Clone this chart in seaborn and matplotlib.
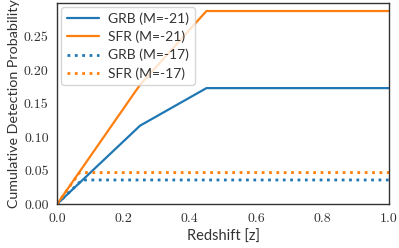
import matplotlib
matplotlib.use("Agg")
import matplotlib.pyplot as plt
import seaborn as sns
import pandas as pd

z_grb21 = [0.0, 0.25, 0.45, 1.0]
p_grb21 = [0.0, 0.117, 0.173, 0.173]
z_sfr21 = [0.0, 0.25, 0.45, 1.0]
p_sfr21 = [0.0, 0.178, 0.288, 0.288]
z_grb17 = [0.0, 0.075, 1.0]
p_grb17 = [0.0, 0.036, 0.036]
z_sfr17 = [0.0, 0.068, 1.0]
p_sfr17 = [0.0, 0.047, 0.047]

sns.set_style("white")
plt.rcParams['font.family'] = ['Lato', 'DejaVu Sans']

fig, ax = plt.subplots(figsize=(3.99, 2.48), dpi=100)
fig.subplots_adjust(left=0.143, right=0.975, top=0.988, bottom=0.177)

blue = "#1f77b4"
orange = "#ff7f0e"
sns.lineplot(x=z_grb21, y=p_grb21, ax=ax, color=blue, lw=1.6, label="GRB (M=-21)")
sns.lineplot(x=z_sfr21, y=p_sfr21, ax=ax, color=orange, lw=1.6, label="SFR (M=-21)")
sns.lineplot(x=z_grb17, y=p_grb17, ax=ax, color=blue, lw=2.0, ls=":", label="GRB (M=-17)")
sns.lineplot(x=z_sfr17, y=p_sfr17, ax=ax, color=orange, lw=2.0, ls=":", label="SFR (M=-17)")

ax.set_xlim(0, 1.0)
ax.set_ylim(0, 0.30)
ax.set_yticks([0.0, 0.05, 0.10, 0.15, 0.20, 0.25])
ax.set_yticklabels(["0.00", "0.05", "0.10", "0.15", "0.20", "0.25"])
ax.set_xticks([0.0, 0.2, 0.4, 0.6, 0.8, 1.0])
ax.set_xticklabels(["0.0", "0.2", "0.4", "0.6", "0.8", "1.0"])
for lab in ax.get_xticklabels() + ax.get_yticklabels():
    lab.set_fontfamily("cmr10")
    lab.set_fontsize(10)
    lab.set_color("#333333")
ax.tick_params(length=0, pad=6)
ax.set_xlabel("Redshift [z]", fontsize=10.5, color="#333333")
ax.set_ylabel("Cumulative Detection Probability", fontsize=10.3, color="#333333", labelpad=3)
for s in ax.spines.values():
    s.set_color("#333333")
    s.set_linewidth(1.0)
leg = ax.legend(loc="upper left", fontsize=10, frameon=True, handlelength=2.3,
                borderaxespad=0.3, labelspacing=0.4, handletextpad=0.7)
leg.get_frame().set_edgecolor("#cccccc")
for t in leg.get_texts():
    t.set_color("#333333")
fig.savefig("out.png", dpi=100)
